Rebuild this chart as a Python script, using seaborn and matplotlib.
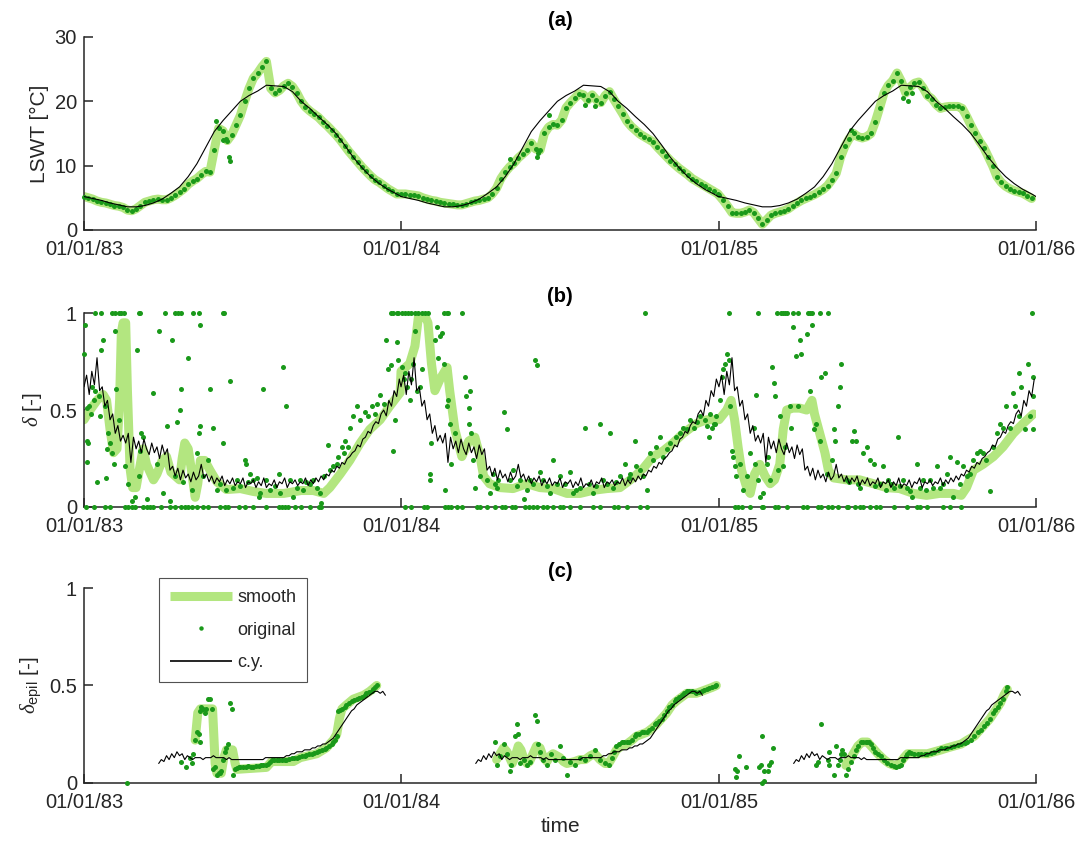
import numpy as np
import pandas as pd
import matplotlib
matplotlib.use("Agg")
import matplotlib.pyplot as plt
import matplotlib.dates as mdates
from matplotlib.lines import Line2D
import seaborn as sns

# ------------------------------------------------------------------ data
years = [1983, 1984, 1985]
xlim_dates = ["1983-01-01", "1986-01-01"]
tick_dates = ["1983-01-01", "1984-01-01", "1985-01-01", "1986-01-01"]

# (a) LSWT original, sampled every 5 days from 1 Jan of each year
a_step = 5
a_orig_83 = [5.2, 5.0, 4.8, 4.5, 4.3, 4.2, 4.0, 3.8, 3.7, 3.5,
             3.1, 3.0, 3.3, 3.8, 4.3, 4.5, 4.7, 4.8, 4.7, 4.7,
             5.0, 5.4, 5.9, 6.4, 7.1, 7.6, 8.0, 8.6, 9.1, 9.0,
             12.5, 15.8, 15.4, 13.9, 14.8, 16.3, 17.8, 20.0, 22.0, 23.6,
             24.4, 25.4, 26.2, 22.0, 21.3, 21.7, 22.4, 22.8, 22.3, 21.3,
             20.0, 19.1, 18.5, 18.0, 17.5, 16.8, 16.2, 15.5, 14.8, 14.0,
             13.1, 12.2, 11.4, 10.6, 9.8, 9.1, 8.4, 7.8, 7.4, 6.9,
             6.4, 6.0, 5.6]
a_orig_84 = [5.6, 5.6, 5.5, 5.4, 5.3, 5.0, 4.8, 4.6, 4.5, 4.3,
             4.2, 4.1, 4.0, 3.9, 3.9, 4.1, 4.3, 4.5, 4.6, 4.8,
             5.0, 5.6, 6.5, 8.0, 9.0, 9.8, 10.4, 11.2, 11.8, 12.4,
             13.5, 12.6, 12.4, 15.0, 16.0, 16.4, 16.3, 17.1, 19.0, 19.8,
             20.5, 21.2, 21.0, 20.2, 21.0, 20.2, 19.8, 20.9, 21.5, 20.3,
             19.2, 18.1, 16.9, 16.1, 15.5, 14.9, 14.5, 14.1, 13.7, 12.9,
             12.2, 11.5, 10.8, 10.2, 9.6, 9.1, 8.6, 8.0, 7.6, 7.2,
             6.8, 6.4, 6.0, 5.6]
a_orig_85 = [5.4, 4.6, 3.7, 2.7, 2.6, 2.6, 2.8, 3.1, 2.7, 1.8,
             0.9, 1.6, 2.3, 2.6, 2.8, 3.0, 3.3, 3.8, 4.2, 4.6,
             4.9, 5.2, 5.5, 5.9, 6.3, 6.9, 7.8, 8.8, 11.3, 13.0,
             14.2, 15.0, 14.5, 14.3, 14.5, 15.0, 16.8, 19.0, 21.3, 22.5,
             23.2, 24.4, 23.1, 21.3, 22.2, 22.8, 23.0, 22.1, 20.9, 20.4,
             19.5, 18.9, 19.1, 19.2, 19.2, 19.2, 18.9, 17.7, 16.3, 15.0,
             13.8, 12.8, 11.4, 10.0, 8.3, 7.4, 6.8, 6.4, 6.1, 5.9,
             5.7, 5.3, 4.9]
# scattered outliers (day of year, value)
a_extra_83 = [(152, 17.0), (160, 14.0), (163, 14.2), (167, 11.4), (168, 10.8)]
a_extra_84 = [(125, 11.0), (156, 11.4), (158, 12.0), (170, 17.9), (212, 19.5), (223, 19.3)]
a_extra_85 = [(152, 15.5), (212, 20.5), (218, 20.0), (222, 21.3)]
# climatological year (c.y.) for LSWT, repeated every year
cy_a_days = [0, 10, 20, 30, 40, 50, 60, 70, 80, 90, 100, 110, 120, 130, 140, 150,
             160, 170, 180, 190, 200, 210, 220, 230, 240, 250, 260, 270, 280, 290,
             300, 310, 320, 330, 340, 350, 360, 365]
cy_a_vals = [5.2, 4.9, 4.6, 4.2, 3.9, 3.6, 3.6, 3.8, 4.2, 4.8, 5.7, 6.7, 8.3, 10.3,
             12.8, 15.3, 17.0, 18.5, 20.0, 20.9, 21.6, 22.5, 22.4, 22.3, 21.5, 20.0,
             18.9, 17.6, 16.4, 15.0, 13.2, 11.3, 9.7, 8.3, 7.2, 6.3, 5.6, 5.2]

# (b) delta: smooth (day, value)
b_smooth_83 = [(0, 0.45), (7, 0.50), (15, 0.55), (22, 0.58), (26, 0.55), (30, 0.40),
               (34, 0.28), (38, 0.30), (41, 0.55), (43, 0.90), (45, 0.95), (48, 0.95),
               (50, 0.60), (53, 0.20), (56, 0.10), (60, 0.10), (64, 0.20), (68, 0.30),
               (72, 0.22), (76, 0.18), (80, 0.14), (84, 0.17), (90, 0.24), (95, 0.26),
               (100, 0.18), (105, 0.16), (110, 0.14), (113, 0.25), (116, 0.33), (120, 0.30),
               (124, 0.18), (128, 0.05), (131, 0.12), (134, 0.24), (139, 0.24), (145, 0.19),
               (153, 0.13), (164, 0.09), (180, 0.095), (195, 0.08), (210, 0.07), (230, 0.07),
               (250, 0.085), (264, 0.085), (276, 0.07), (283, 0.10), (295, 0.17), (306, 0.24),
               (318, 0.33), (329, 0.40), (341, 0.45), (352, 0.52), (364, 0.59)]
b_smooth_84 = [(0, 0.70), (10, 0.74), (16, 0.83), (20, 0.98), (26, 1.0), (31, 0.95),
               (35, 0.74), (39, 0.60), (45, 0.66), (53, 0.72), (56, 0.60), (62, 0.40),
               (70, 0.26), (78, 0.34), (85, 0.36), (91, 0.26), (95, 0.16), (102, 0.12),
               (114, 0.10), (129, 0.095), (145, 0.12), (160, 0.10), (175, 0.095), (191, 0.07),
               (206, 0.07), (221, 0.086), (237, 0.095), (252, 0.10), (267, 0.15), (279, 0.20),
               (290, 0.26), (302, 0.29), (313, 0.33), (325, 0.38), (340, 0.43), (352, 0.45),
               (365, 0.45)]
b_smooth_85 = [(0, 0.45), (9, 0.50), (14, 0.55), (18, 0.45), (22, 0.31), (26, 0.19),
               (32, 0.10), (36, 0.07), (41, 0.17), (47, 0.22), (53, 0.16), (59, 0.12),
               (64, 0.14), (70, 0.22), (74, 0.40), (78, 0.50), (85, 0.51), (93, 0.51),
               (101, 0.50), (107, 0.55), (110, 0.48), (116, 0.38), (122, 0.28), (126, 0.19),
               (132, 0.15), (147, 0.14), (162, 0.14), (178, 0.12), (193, 0.10), (208, 0.095),
               (224, 0.07), (239, 0.06), (254, 0.07), (270, 0.07), (279, 0.06), (285, 0.10),
               (293, 0.19), (304, 0.22), (316, 0.26), (327, 0.31), (339, 0.38), (350, 0.43),
               (362, 0.48)]
# (b) original: saturated at 1, at 0, and scattered
b_top_83 = [13, 20, 32, 36, 40, 43, 46, 63, 64, 93, 105, 108, 112, 126, 132, 160, 161,
            354, 356, 360, 362]
b_zero_83 = [2, 11, 24, 30, 47, 51, 55, 59, 68, 72, 76, 80, 89, 99, 105, 112, 116, 120,
             124, 130, 137, 143, 157, 162, 166, 178, 185, 195, 210, 224, 228, 231, 235,
             243, 250, 260, 271, 273]
b_orig_83 = [(1, 0.94), (0, 0.79), (3, 0.51), (4, 0.34), (5, 0.33), (3, 0.23), (9, 0.62),
             (13, 0.60), (15, 0.13), (18, 0.47), (20, 0.81), (22, 0.86), (25, 0.15),
             (26, 0.30), (28, 0.38), (30, 0.33), (32, 0.28), (34, 0.22), (36, 0.91),
             (37, 0.61), (40, 0.45), (47, 0.21), (51, 0.12), (55, 0.03), (59, 0.05),
             (61, 0.81), (63, 0.16), (64, 0.29), (66, 0.38), (68, 0.36), (72, 0.04),
             (80, 0.59), (84, 0.22), (86, 0.91), (91, 0.07), (95, 0.42), (99, 0.03),
             (101, 0.86), (105, 0.16), (107, 0.44), (111, 0.50), (112, 0.61), (114, 0.13),
             (120, 0.77), (124, 0.09), (130, 0.28), (132, 0.38), (134, 0.42), (134, 0.94),
             (137, 0.16), (143, 0.24), (145, 0.61), (149, 0.41), (153, 0.09), (160, 0.33),
             (168, 0.65), (172, 0.10), (185, 0.24), (187, 0.22), (191, 0.17), (195, 0.14),
             (201, 0.05), (203, 0.07), (206, 0.61), (210, 0.14), (224, 0.17), (229, 0.72),
             (233, 0.52), (237, 0.14), (241, 0.05), (249, 0.14), (256, 0.13), (264, 0.14),
             (272, 0.07), (273, 0.02), (281, 0.32), (287, 0.21), (293, 0.26), (297, 0.31),
             (300, 0.34), (306, 0.41), (310, 0.47), (314, 0.52), (318, 0.45), (323, 0.49),
             (327, 0.47), (331, 0.52), (335, 0.48), (337, 0.53), (341, 0.58), (345, 0.53),
             (348, 0.86), (350, 0.71), (354, 0.73), (356, 0.29), (358, 0.45), (360, 0.85),
             (362, 0.76), (157, 0.12), (164, 0.09), (176, 0.14), (180, 0.11), (189, 0.13),
             (199, 0.15), (214, 0.09), (220, 0.11), (226, 0.07), (245, 0.10), (252, 0.09),
             (260, 0.12), (268, 0.10), (276, 0.16), (283, 0.19), (291, 0.22), (299, 0.28),
             (304, 0.31), (6, 0.52), (8, 0.48), (11, 0.55), (17, 0.57), (24, 0.52)]
b_top_84 = [1, 5, 8, 12, 16, 20, 24, 28, 31, 49, 53, 54, 70, 281]
b_zero_84 = [5, 12, 26, 30, 51, 54, 58, 64, 70, 87, 91, 99, 108, 116, 120, 128, 131, 143,
             147, 152, 156, 164, 168, 175, 183, 187, 194, 206, 221, 229, 245, 250, 260,
             275, 283]
b_orig_84 = [(1, 0.72), (3, 0.66), (5, 0.69), (7, 0.62), (10, 0.55), (12, 0.66), (14, 0.74),
             (16, 0.91), (18, 0.60), (22, 0.62), (24, 0.71), (33, 0.17), (33, 0.14),
             (35, 0.33), (39, 0.86), (41, 0.93), (43, 0.77), (45, 0.88), (47, 0.90),
             (49, 0.74), (51, 0.09), (53, 0.52), (54, 0.55), (56, 0.43), (58, 0.22),
             (62, 0.38), (74, 0.67), (75, 0.57), (78, 0.51), (78, 0.43), (79, 0.60),
             (81, 0.38), (83, 0.24), (85, 0.10), (91, 0.16), (99, 0.14), (102, 0.07),
             (106, 0.17), (112, 0.14), (118, 0.49), (122, 0.40), (125, 0.14), (129, 0.19),
             (137, 0.14), (141, 0.04), (145, 0.09), (149, 0.14), (154, 0.76), (156, 0.73),
             (160, 0.18), (164, 0.14), (172, 0.07), (175, 0.24), (183, 0.16), (189, 0.12),
             (195, 0.18), (198, 0.07), (206, 0.10), (212, 0.41), (216, 0.12), (221, 0.07),
             (229, 0.43), (233, 0.14), (241, 0.38), (244, 0.10), (252, 0.16), (258, 0.22),
             (264, 0.17), (269, 0.34), (271, 0.21), (279, 0.16), (283, 0.09), (287, 0.28),
             (294, 0.31), (298, 0.36), (302, 0.26), (310, 0.33), (317, 0.36), (325, 0.41),
             (333, 0.45), (337, 0.41), (344, 0.47), (350, 0.45), (356, 0.48), (360, 0.43),
             (108, 0.12), (110, 0.10), (133, 0.11), (152, 0.12), (168, 0.11), (179, 0.12),
             (202, 0.09), (225, 0.11), (237, 0.12), (248, 0.13), (262, 0.15), (275, 0.19),
             (290, 0.24), (306, 0.30), (321, 0.38), (329, 0.40), (341, 0.44), (352, 0.42),
             (363, 0.47), (355, 0.36), (358, 0.41), (362, 0.43)]
b_top_85 = [12, 45, 67, 72, 74, 76, 78, 85, 91, 103, 105, 107, 116, 126, 360]
b_zero_85 = [18, 22, 26, 36, 49, 51, 64, 68, 78, 97, 101, 114, 118, 126, 130, 137, 147,
             149, 157, 162, 166, 174, 181, 185, 201, 216, 228, 231, 239, 258, 266, 279]
b_orig_85 = [(1, 0.55), (3, 0.67), (5, 0.71), (7, 0.74), (9, 0.79), (11, 0.76), (13, 0.52),
             (15, 0.29), (16, 0.26), (18, 0.21), (20, 0.16), (24, 0.22), (28, 0.09),
             (32, 0.16), (36, 0.28), (40, 0.41), (41, 0.22), (43, 0.58), (45, 0.14),
             (47, 0.05), (51, 0.07), (55, 0.22), (57, 0.26), (59, 0.14), (61, 0.72),
             (63, 0.64), (64, 0.57), (68, 0.19), (70, 0.47), (74, 0.21), (76, 0.31),
             (82, 0.52), (83, 0.41), (85, 0.93), (89, 0.78), (91, 0.52), (93, 0.86),
             (95, 0.79), (101, 0.89), (105, 0.60), (107, 0.94), (110, 0.40), (112, 0.43),
             (116, 0.34), (118, 0.67), (122, 0.69), (124, 0.17), (130, 0.24), (132, 0.40),
             (134, 0.34), (137, 0.52), (139, 0.62), (141, 0.74), (147, 0.14), (153, 0.34),
             (155, 0.39), (158, 0.34), (162, 0.10), (166, 0.28), (170, 0.31), (174, 0.24),
             (178, 0.22), (185, 0.12), (189, 0.21), (195, 0.14), (201, 0.10), (206, 0.36),
             (212, 0.14), (216, 0.10), (222, 0.05), (228, 0.22), (231, 0.10), (235, 0.14),
             (243, 0.14), (251, 0.21), (254, 0.10), (262, 0.17), (266, 0.26), (270, 0.05),
             (274, 0.23), (277, 0.12), (281, 0.21), (285, 0.16), (289, 0.17), (293, 0.24),
             (297, 0.28), (300, 0.29), (304, 0.28), (308, 0.24), (312, 0.08), (316, 0.31),
             (320, 0.38), (323, 0.43), (327, 0.41), (331, 0.52), (335, 0.41), (339, 0.59),
             (341, 0.52), (345, 0.47), (346, 0.69), (348, 0.62), (352, 0.40), (356, 0.74),
             (358, 0.47), (362, 0.67), (362, 0.57), (362, 0.40), (150, 0.13), (160, 0.12),
             (180, 0.11), (192, 0.09), (198, 0.12), (208, 0.11), (220, 0.08), (238, 0.09),
             (246, 0.10), (258, 0.12)]
# (b) c.y., every 3 days from 1 Jan, repeated every year
cy_b_step = 3
cy_b_vals = [0.62, 0.68, 0.58, 0.70, 0.63, 0.77, 0.60, 0.62, 0.52, 0.55,
             0.45, 0.48, 0.38, 0.42, 0.34, 0.37, 0.33, 0.38, 0.23, 0.36,
             0.30, 0.34, 0.28, 0.35, 0.30, 0.27, 0.33, 0.28, 0.31, 0.25,
             0.32, 0.27, 0.30, 0.19, 0.21, 0.16, 0.20, 0.14, 0.19, 0.15,
             0.17, 0.13, 0.18, 0.14, 0.16, 0.22, 0.15, 0.17, 0.13, 0.16,
             0.12, 0.15, 0.13, 0.16, 0.11, 0.14, 0.12, 0.15, 0.11, 0.13,
             0.12, 0.15, 0.10, 0.13, 0.12, 0.14, 0.10, 0.13, 0.11, 0.15,
             0.10, 0.12, 0.11, 0.14, 0.10, 0.13, 0.12, 0.15, 0.10, 0.13,
             0.12, 0.14, 0.11, 0.13, 0.12, 0.15, 0.11, 0.14, 0.12, 0.15,
             0.13, 0.16, 0.14, 0.17, 0.16, 0.19, 0.18, 0.21, 0.20, 0.23,
             0.22, 0.25, 0.26, 0.28, 0.29, 0.32, 0.31, 0.35, 0.36, 0.39,
             0.38, 0.42, 0.44, 0.43, 0.48, 0.50, 0.47, 0.55, 0.52, 0.60,
             0.57, 0.66]

# (c) delta_epil
c_smooth_83 = [(128, 0.22), (131, 0.36), (134, 0.38), (148, 0.38), (151, 0.10), (153, 0.05),
               (158, 0.05), (161, 0.13), (164, 0.17), (171, 0.17), (174, 0.10), (176, 0.07),
               (210, 0.08), (214, 0.10), (216, 0.11), (241, 0.11), (249, 0.13), (268, 0.15),
               (279, 0.18), (287, 0.22), (291, 0.25), (294, 0.33), (297, 0.38), (302, 0.40),
               (310, 0.43), (322, 0.45), (329, 0.47), (337, 0.50)]
c_smooth_84 = [(110, 0.12), (114, 0.15), (118, 0.18), (122, 0.16), (125, 0.13), (128, 0.10),
               (131, 0.13), (135, 0.19), (138, 0.17), (141, 0.13), (145, 0.10), (148, 0.11),
               (152, 0.15), (156, 0.19), (160, 0.18), (164, 0.13), (168, 0.11), (172, 0.14),
               (175, 0.15), (179, 0.14), (183, 0.13), (187, 0.11), (191, 0.10), (200, 0.11),
               (206, 0.12), (212, 0.12), (218, 0.14), (223, 0.15), (229, 0.12), (235, 0.10),
               (239, 0.10), (243, 0.13), (248, 0.17), (254, 0.19), (260, 0.20), (266, 0.22),
               (271, 0.24), (277, 0.25), (283, 0.26), (289, 0.28), (294, 0.30), (300, 0.33),
               (306, 0.36), (312, 0.40), (317, 0.42), (323, 0.44), (329, 0.46), (335, 0.46),
               (340, 0.46), (346, 0.47), (352, 0.48), (358, 0.49), (363, 0.50)]
c_smooth_85 = [(146, 0.09), (148, 0.11), (152, 0.13), (156, 0.16), (160, 0.19), (165, 0.21),
               (171, 0.21), (177, 0.18), (183, 0.15), (190, 0.12), (196, 0.10), (202, 0.09),
               (208, 0.10), (213, 0.13), (217, 0.15), (225, 0.15), (233, 0.15), (240, 0.15),
               (248, 0.16), (256, 0.17), (263, 0.18), (271, 0.19), (279, 0.20), (286, 0.22),
               (294, 0.24), (300, 0.27), (306, 0.30), (312, 0.33), (318, 0.37), (324, 0.41),
               (328, 0.45), (332, 0.48)]
c_orig_83 = [(49, 0.0), (112, 0.11), (118, 0.08), (122, 0.13), (124, 0.10), (126, 0.15),
             (128, 0.22), (130, 0.26), (132, 0.25), (134, 0.21), (133, 0.37), (135, 0.39),
             (137, 0.38), (139, 0.36), (141, 0.38), (143, 0.43), (145, 0.43), (147, 0.38),
             (149, 0.07), (151, 0.08), (153, 0.04), (155, 0.05), (157, 0.05), (158, 0.06),
             (160, 0.12), (162, 0.16), (164, 0.18), (166, 0.20), (168, 0.41), (170, 0.38),
             (172, 0.04), (174, 0.07), (178, 0.08), (183, 0.08), (189, 0.085), (195, 0.08),
             (201, 0.085), (206, 0.09), (212, 0.095), (216, 0.12), (222, 0.12), (228, 0.12),
             (233, 0.12), (239, 0.13), (245, 0.13), (251, 0.14), (256, 0.145), (262, 0.15),
             (268, 0.16), (274, 0.17), (279, 0.18), (285, 0.20), (289, 0.22), (291, 0.24),
             (293, 0.37), (297, 0.38), (302, 0.40), (308, 0.42), (314, 0.43), (320, 0.44),
             (325, 0.46), (331, 0.47), (335, 0.49), (337, 0.50), (176, 0.075), (180, 0.08),
             (186, 0.08), (192, 0.08), (198, 0.085), (204, 0.09), (209, 0.09), (214, 0.11),
             (219, 0.12), (225, 0.12), (231, 0.12), (236, 0.125), (242, 0.13), (248, 0.135),
             (254, 0.14), (259, 0.15), (265, 0.155), (271, 0.165), (277, 0.175), (282, 0.19),
             (287, 0.21), (295, 0.375), (300, 0.39), (305, 0.41), (311, 0.425), (317, 0.435),
             (323, 0.45), (328, 0.465), (333, 0.48)]
c_orig_84 = [(108, 0.21), (110, 0.09), (114, 0.14), (118, 0.20), (122, 0.15), (125, 0.06),
             (127, 0.09), (131, 0.24), (133, 0.30), (135, 0.25), (137, 0.10), (141, 0.12),
             (145, 0.09), (148, 0.11), (154, 0.35), (156, 0.32), (158, 0.20), (160, 0.16),
             (164, 0.12), (168, 0.09), (173, 0.15), (177, 0.12), (183, 0.19), (187, 0.13),
             (191, 0.04), (195, 0.11), (200, 0.09), (206, 0.13), (212, 0.12), (218, 0.14),
             (223, 0.17), (229, 0.12), (235, 0.10), (239, 0.09), (243, 0.13), (248, 0.19),
             (254, 0.21), (260, 0.21), (266, 0.22), (271, 0.25), (277, 0.26), (283, 0.26),
             (289, 0.28), (294, 0.31), (300, 0.33), (306, 0.37), (312, 0.40), (317, 0.43),
             (323, 0.45), (329, 0.47), (335, 0.47), (340, 0.46), (346, 0.47), (352, 0.48),
             (358, 0.49), (363, 0.50), (286, 0.27), (292, 0.30), (297, 0.32), (303, 0.35),
             (309, 0.39), (315, 0.42), (320, 0.44), (326, 0.46), (332, 0.47), (338, 0.465),
             (343, 0.465), (349, 0.475), (355, 0.485), (361, 0.495), (245, 0.16), (251, 0.20),
             (257, 0.21), (263, 0.21), (269, 0.24), (274, 0.25), (280, 0.26)]
c_orig_85 = [(18, 0.07), (20, 0.03), (21, 0.06), (23, 0.14), (31, 0.08), (46, 0.08),
             (48, 0.09), (50, 0.24), (50, 0.0), (52, 0.01), (52, 0.06), (56, 0.06),
             (58, 0.09), (60, 0.11), (62, 0.18), (112, 0.09), (114, 0.11), (117, 0.30),
             (125, 0.12), (127, 0.16), (127, 0.09), (133, 0.04), (135, 0.19), (137, 0.09),
             (139, 0.12), (140, 0.15), (142, 0.17), (144, 0.15), (146, 0.04), (148, 0.07),
             (152, 0.11), (156, 0.14), (160, 0.19), (163, 0.21), (169, 0.21), (173, 0.21),
             (177, 0.18), (183, 0.15), (190, 0.12), (198, 0.09), (204, 0.08), (210, 0.09),
             (215, 0.14), (219, 0.16), (225, 0.15), (233, 0.15), (240, 0.15), (248, 0.16),
             (256, 0.18), (263, 0.18), (271, 0.19), (279, 0.20), (286, 0.21), (294, 0.24),
             (302, 0.27), (309, 0.31), (315, 0.36), (321, 0.39), (327, 0.43), (330, 0.47),
             (332, 0.49), (158, 0.17), (166, 0.21), (171, 0.21), (175, 0.20), (180, 0.16),
             (186, 0.14), (194, 0.10), (201, 0.085), (207, 0.085), (212, 0.12), (217, 0.15),
             (221, 0.155), (229, 0.15), (237, 0.15), (244, 0.155), (252, 0.17), (260, 0.18),
             (267, 0.185), (275, 0.195), (283, 0.205), (290, 0.22), (298, 0.26), (305, 0.29),
             (312, 0.33), (318, 0.375), (324, 0.41)]
cy_c_start, cy_c_step = 86, 3
cy_c_vals = [0.10, 0.12, 0.11, 0.14, 0.12, 0.15, 0.13, 0.16, 0.14, 0.15,
             0.12, 0.14, 0.13, 0.12, 0.13, 0.13, 0.13, 0.12, 0.13, 0.13,
             0.13, 0.14, 0.13, 0.13, 0.13, 0.13, 0.12, 0.13, 0.12, 0.12,
             0.12, 0.12, 0.12, 0.12, 0.12, 0.12, 0.12, 0.12, 0.12, 0.12,
             0.12, 0.13, 0.13, 0.13, 0.13, 0.13, 0.13, 0.13, 0.13, 0.14,
             0.14, 0.15, 0.15, 0.16, 0.16, 0.16, 0.17, 0.17, 0.17, 0.18,
             0.18, 0.19, 0.19, 0.20, 0.20, 0.21, 0.22, 0.23, 0.25, 0.27,
             0.29, 0.31, 0.33, 0.35, 0.37, 0.38, 0.40, 0.41, 0.42, 0.43,
             0.44, 0.45, 0.46, 0.47, 0.47, 0.46, 0.47, 0.45]

# ------------------------------------------------------------------ helpers
def dates(year, days):
    return pd.Timestamp(f"{year}-01-01") + pd.to_timedelta(np.asarray(days, float), unit="D")

def pairs_df(year, pairs):
    d, v = zip(*pairs)
    return pd.DataFrame({"t": dates(year, d), "v": v})

def step_df(year, vals, step, start=0):
    days = start + step * np.arange(len(vals))
    return pd.DataFrame({"t": dates(year, days), "v": vals})

# ------------------------------------------------------------------ style
sns.set_style("ticks")
plt.rcParams["font.family"] = ["Liberation Sans", "DejaVu Sans"]
plt.rcParams["mathtext.fontset"] = "custom"
plt.rcParams["mathtext.rm"] = "Liberation Sans"
plt.rcParams["mathtext.it"] = "Liberation Serif:italic"
TXT = "#262626"
C_SMOOTH = "#b3e680"
C_DOT = "#1a991a"
C_CY = "black"
FS = 14.5
FS_LAB = 15
FS_LEG = 13

fig = plt.figure(figsize=(10.88, 8.44), dpi=100)
L, W = 0.0772, 0.875
axa = fig.add_axes([L, 0.7275, W, 0.2287])
axb = fig.add_axes([L, 0.3993, W, 0.2297])
axc = fig.add_axes([L, 0.0723, W, 0.2310])

SM_LW = 6.5
DOT_S = 13
CY_LW = 0.8

def scatter(ax, df):
    sns.scatterplot(data=df, x="t", y="v", ax=ax, color=C_DOT, s=DOT_S,
                    linewidth=0, clip_on=False, zorder=3, legend=False)

def line(ax, df, color, lw, z):
    sns.lineplot(data=df, x="t", y="v", ax=ax, color=color, linewidth=lw,
                 estimator=None, sort=False, zorder=z, legend=False)

# (a)
a_orig = {1983: a_orig_83, 1984: a_orig_84, 1985: a_orig_85}
a_extra = {1983: a_extra_83, 1984: a_extra_84, 1985: a_extra_85}
a_sm = pd.concat([step_df(y, a_orig[y], a_step) for y in years])
line(axa, a_sm, C_SMOOTH, SM_LW, 1)
scatter(axa, a_sm)
scatter(axa, pd.concat([pairs_df(y, a_extra[y]) for y in years]))
cy_a = pd.concat([pd.DataFrame({"t": dates(y, cy_a_days), "v": cy_a_vals}) for y in years])
line(axa, cy_a, C_CY, CY_LW, 4)

# (b)
b_sm = {1983: b_smooth_83, 1984: b_smooth_84, 1985: b_smooth_85}
b_top = {1983: b_top_83, 1984: b_top_84, 1985: b_top_85}
b_zero = {1983: b_zero_83, 1984: b_zero_84, 1985: b_zero_85}
b_or = {1983: b_orig_83, 1984: b_orig_84, 1985: b_orig_85}
line(axb, pd.concat([pairs_df(y, b_sm[y]) for y in years]), C_SMOOTH, SM_LW, 1)
b_pts = []
for y in years:
    b_pts.append(pairs_df(y, b_or[y]))
    b_pts.append(pd.DataFrame({"t": dates(y, b_top[y]), "v": 1.0}))
    b_pts.append(pd.DataFrame({"t": dates(y, b_zero[y]), "v": 0.0}))
scatter(axb, pd.concat(b_pts))
line(axb, pd.concat([step_df(y, cy_b_vals, cy_b_step) for y in years]), C_CY, CY_LW, 4)

# (c)
c_sm = {1983: c_smooth_83, 1984: c_smooth_84, 1985: c_smooth_85}
c_or = {1983: c_orig_83, 1984: c_orig_84, 1985: c_orig_85}
for y in years:
    line(axc, pairs_df(y, c_sm[y]), C_SMOOTH, SM_LW, 1)
    scatter(axc, pairs_df(y, c_or[y]))
    line(axc, step_df(y, cy_c_vals, cy_c_step, cy_c_start), C_CY, CY_LW, 4)

# ------------------------------------------------------------------ axes styling
ticks = [pd.Timestamp(t) for t in tick_dates]
for ax, title, ylim, yt, ylab in [
        (axa, "(a)", (0, 30), [0, 10, 20, 30], "LSWT [°C]"),
        (axb, "(b)", (0, 1), [0, 0.5, 1], r"$\delta$ [-]"),
        (axc, "(c)", (0, 1), [0, 0.5, 1], r"$\delta_{\mathrm{epil}}$ [-]")]:
    ax.set_xlim(pd.Timestamp(xlim_dates[0]), pd.Timestamp(xlim_dates[1]))
    ax.set_ylim(*ylim)
    ax.set_yticks(yt)
    ax.set_yticklabels([f"{v:g}" for v in yt])
    ax.set_xticks(ticks)
    ax.xaxis.set_major_formatter(mdates.DateFormatter("%d/%m/%y"))
    ax.set_title(title, fontsize=FS, fontweight="bold", color="black", pad=8)
    ax.set_ylabel(ylab, fontsize=FS_LAB, color=TXT, labelpad=4)
    ax.set_xlabel("")
    for s in ["top", "right"]:
        ax.spines[s].set_visible(False)
    for s in ["left", "bottom"]:
        ax.spines[s].set_color(TXT)
        ax.spines[s].set_linewidth(1.1)
    ax.tick_params(direction="in", length=6.5, width=1.1, colors=TXT,
                   labelsize=FS)
    ax.tick_params(axis="y", pad=5)
    ax.tick_params(axis="x", pad=7)
    ax.patch.set_alpha(0)

axc.set_xlabel("time", fontsize=FS_LAB, color=TXT, labelpad=4)

handles = [Line2D([], [], color=C_SMOOTH, lw=SM_LW, solid_capstyle="butt"),
           Line2D([], [], color=C_DOT, marker="o", ls="none", ms=3.2, mew=0),
           Line2D([], [], color=C_CY, lw=1.2, solid_capstyle="butt")]
leg = axc.legend(handles, ["smooth", "original", "c.y."], loc="upper left",
                 bbox_to_anchor=(0.0788, 1.051), borderaxespad=0, fontsize=FS_LEG,
                 frameon=True, fancybox=False, edgecolor=TXT, handlelength=3.4,
                 labelspacing=0.85, borderpad=0.62, handletextpad=0.3)
leg.get_frame().set_linewidth(0.8)
leg.set_zorder(10)

fig.savefig("out.png", dpi=100)
